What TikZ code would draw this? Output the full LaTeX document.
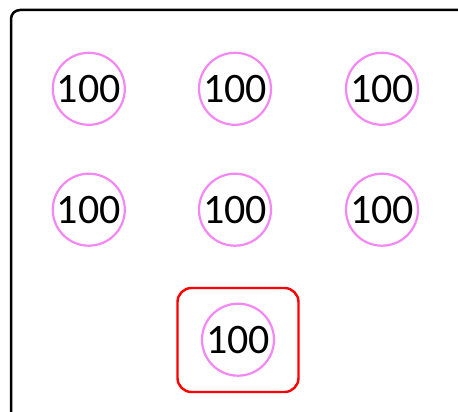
\documentclass[tikz,border=0pt]{standalone}
\usepackage{fontspec}
\setmainfont{Carlito}
\definecolor{ringpink}{RGB}{245,135,245}
\definecolor{boxred}{RGB}{255,0,0}
\begin{document}
\begin{tikzpicture}[x=1pt,y=-1pt,
  ring/.style={circle,draw=ringpink,line width=2.2pt,minimum size=72pt,inner sep=0pt,
    font=\fontsize{42}{42}\selectfont,text=black},
  frame/.style={draw=black,line width=2.5pt,rounded corners=9pt},
  hilite/.style={draw=boxred,line width=2.4pt,rounded corners=14pt}]
\useasboundingbox (0,0) rectangle (458,412);
\begin{scope}
\clip (0,0) rectangle (458,412);
\draw[frame] (11,10) rectangle (480,440);
\end{scope}
\node[ring] (a1) at (88.8,88.8) {100};
\node[ring] (a2) at (235,88.8) {100};
\node[ring] (a3) at (382,88.8) {100};
\node[ring] (b1) at (88.8,209.7) {100};
\node[ring] (b2) at (235,209.7) {100};
\node[ring] (b3) at (382,209.7) {100};
\node[ring] (c2) at (238,339.7) {100};
\draw[hilite] (177.5,288) rectangle (298.5,392);
\end{tikzpicture}
\end{document}
